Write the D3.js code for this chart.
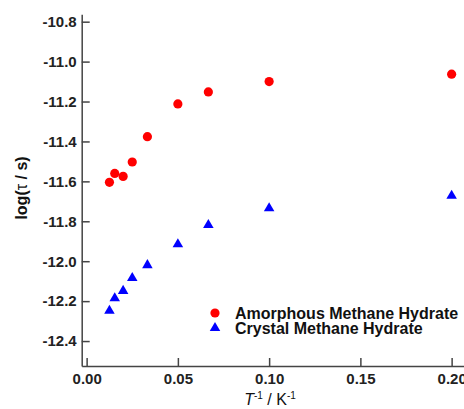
<!DOCTYPE html>
<html>
<head>
<meta charset="utf-8">
<script src="https://cdn.jsdelivr.net/npm/d3@7"></script>
<style>
  html, body { margin: 0; padding: 0; background: #fff; }
  svg { display: block; font-family: "Liberation Sans", Arial, Helvetica, sans-serif; }
</style>
</head>
<body>
<div id="chart"></div>
<script>
// inverse temperature (1/K)
const invT = [0.0125, 0.0154, 0.02, 0.025, 0.0333, 0.05, 0.0667, 0.1, 0.2];

// log(tau / s)
const amorphous = [-11.605, -11.56, -11.575, -11.503, -11.376, -11.212, -11.152, -11.10, -11.063];
const crystal = [-12.248, -12.186, -12.149, -12.084, -12.020, -11.915, -11.819, -11.735, -11.672];

const xTicks = [0, 0.05, 0.10, 0.15, 0.20];
const yTicks = [-10.8, -11.0, -11.2, -11.4, -11.6, -11.8, -12.0, -12.2, -12.4];

const seriesNames = ["Amorphous Methane Hydrate", "Crystal Methane Hydrate"];

const width = 464;
const height = 409;

const svg = d3.select("#chart").append("svg")
    .attr("width", width)
    .attr("height", height);

// ==========================
// Scales
// ==========================

const xScale = d3.scaleLinear()
    .domain([-0.0027, 0.212])
    .range([81.7, 81.7 + 0.2147 * 1825]);

const yScale = d3.scaleLinear()
    .domain([-12.525, -10.763])
    .range([366, 14.3]);

// ==========================
// Axes
// ==========================

const xAxis = d3.axisBottom(xScale)
    .tickValues(xTicks)
    .tickFormat(d => d.toFixed(2))
    .tickSizeInner(-8)
    .tickSizeOuter(0)
    .tickPadding(7);

const yAxis = d3.axisLeft(yScale)
    .tickValues(yTicks)
    .tickFormat(d => d.toFixed(1))
    .tickSizeInner(-8)
    .tickSizeOuter(0)
    .tickPadding(5);

const gx = svg.append("g")
    .attr("transform", `translate(0,${yScale.range()[0]})`)
    .call(xAxis);

const gy = svg.append("g")
    .attr("transform", `translate(${xScale.range()[0]},0)`)
    .call(yAxis);

[gx, gy].forEach(g => {
    g.select(".domain").attr("stroke", "#444").attr("stroke-width", 1.5);
    g.selectAll(".tick line").attr("stroke", "#444").attr("stroke-width", 1.5);
    g.selectAll(".tick text")
        .attr("fill", "#222")
        .style("font-size", "15px")
        .style("font-weight", "bold")
        .style("font-family", "'Liberation Sans', Arial, sans-serif");
});

// ==========================
// Points
// ==========================

const amorphData = invT.map((x, i) => ({ x, y: amorphous[i] }));
const crystalData = invT.map((x, i) => ({ x, y: crystal[i] }));

svg.selectAll(".amorph")
    .data(amorphData)
    .enter()
    .append("circle")
    .attr("class", "amorph")
    .attr("cx", d => xScale(d.x))
    .attr("cy", d => yScale(d.y))
    .attr("r", 4.6)
    .attr("fill", "#ff0000");

const tri = d3.symbol().type(d3.symbolTriangle).size(48);

svg.selectAll(".crystal")
    .data(crystalData)
    .enter()
    .append("path")
    .attr("class", "crystal")
    .attr("transform", d => `translate(${xScale(d.x)},${yScale(d.y)})`)
    .attr("d", tri)
    .attr("fill", "#0000ff");

// ==========================
// Axis titles
// ==========================

const yTitle = svg.append("text")
    .attr("transform", "translate(27,188) rotate(-90)")
    .attr("text-anchor", "middle")
    .style("font-size", "16px")
    .style("font-weight", "bold")
    .attr("fill", "#111");
yTitle.append("tspan").text("log(");
yTitle.append("tspan").style("font-weight", "normal").text("τ");
yTitle.append("tspan").text(" / s)");

const xTitle = svg.append("text")
    .attr("x", 270)
    .attr("y", 405)
    .attr("text-anchor", "middle")
    .style("font-size", "16px")
    .attr("fill", "#111");
xTitle.append("tspan").style("font-style", "italic").text("T");
xTitle.append("tspan").attr("dy", -6).style("font-size", "10px").text("-1");
xTitle.append("tspan").attr("dy", 6).text(" / K");
xTitle.append("tspan").attr("dy", -6).style("font-size", "10px").text("-1");

// ==========================
// Legend
// ==========================

const legend = svg.append("g")
    .attr("transform", "translate(215,313)");

legend.append("circle")
    .attr("r", 4.6)
    .attr("fill", "#ff0000");

legend.append("path")
    .attr("transform", "translate(0,15)")
    .attr("d", tri)
    .attr("fill", "#0000ff");

legend.selectAll(".leg-text")
    .data(seriesNames)
    .enter()
    .append("text")
    .attr("x", 20)
    .attr("y", (d, i) => i * 15)
    .attr("dy", "0.36em")
    .style("font-size", "16px")
    .style("font-weight", "bold")
    .attr("fill", "#111")
    .text(d => d);
</script>
</body>
</html>
